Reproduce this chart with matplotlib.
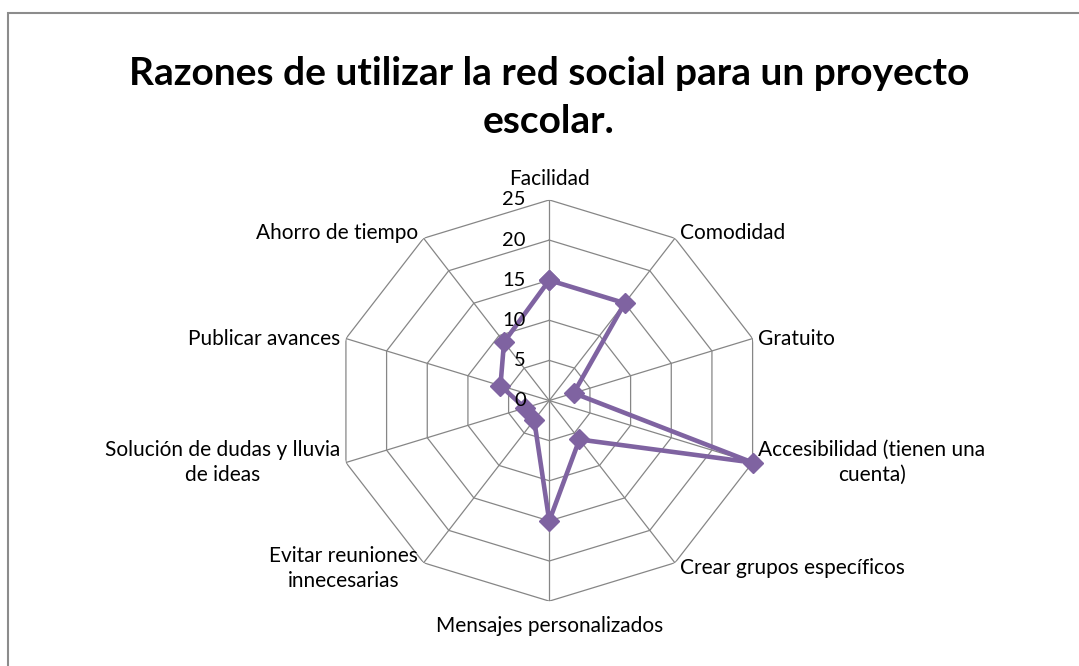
import numpy as np
import matplotlib
matplotlib.use("Agg")
import matplotlib.pyplot as plt
from matplotlib.patches import Rectangle

title = "Razones de utilizar la red social para un proyecto\nescolar."
categories = ["Facilidad", "Comodidad", "Gratuito", "Accesibilidad (tienen una\ncuenta)",
              "Crear grupos específicos", "Mensajes personalizados",
              "Evitar reuniones\ninnecesarias", "Solución de dudas y lluvia\nde ideas",
              "Publicar avances", "Ahorro de tiempo"]
values = [15, 15, 3, 25, 6, 15, 3, 3, 6, 9]
ticks = [0, 5, 10, 15, 20, 25]

FONT = ["Lato", "DejaVu Sans"]
LINE_COLOR = "#7F63A1"
GRID_COLOR = "#868686"

fig = plt.figure(figsize=(10.79, 6.66), dpi=100)
fig.patch.set_facecolor("white")

# chart border (top and left visible)
fig.add_artist(Rectangle((8/1079, -0.1), 1.2, (666-13)/666 + 0.1, transform=fig.transFigure,
                         fill=False, edgecolor="#8C8C8C", linewidth=1.5))

fig.text(0.5088, 1 - 97.5/666, title, ha="center", va="center", fontsize=28,
         fontweight="bold", family=FONT, linespacing=1.42)

ax = fig.add_axes([0.3109, 0.0974, 0.3963, 0.6024], projection="polar")
ax.set_aspect("auto")
ax.set_theta_zero_location("N")
ax.set_theta_direction(-1)
ax.set_ylim(0, 25)
ax.grid(False)
ax.spines["polar"].set_visible(False)
ax.set_xticks([])
ax.set_yticks([])
ax.patch.set_alpha(0)

n = len(categories)
theta = np.arange(n) * 2 * np.pi / n
theta_c = np.append(theta, theta[0])

for t in ticks[1:]:
    ax.plot(theta_c, [t] * (n + 1), color=GRID_COLOR, lw=0.9, zorder=1)
for th in theta:
    ax.plot([th, th], [0, ticks[-1]], color=GRID_COLOR, lw=0.9, zorder=1)

vals_c = values + values[:1]
ax.plot(theta_c, vals_c, color=LINE_COLOR, lw=3.3, marker="D", markersize=10,
        markerfacecolor=LINE_COLOR, markeredgecolor=LINE_COLOR, zorder=3, clip_on=False)

for t in ticks:
    ax.annotate(str(t), xy=(0, t), xytext=(-17, 0), textcoords="offset points",
                ha="right", va="center", fontsize=14.5, family=FONT, annotation_clip=False)

for th, lab in zip(theta, categories):
    s, c = np.sin(th), np.cos(th)
    if abs(s) < 1e-6:
        ha = "center"
    elif s > 0:
        ha = "left"
    else:
        ha = "right"
    if c > 0.9:
        va = "bottom"
    elif c < -0.9:
        va = "top"
    else:
        va = "center"
    dx = 4 * np.sign(s) if abs(s) > 1e-6 else 0
    dy = 0
    if c > 0.9:
        dy = 8
    elif c < -0.9:
        dy = -11
    elif abs(c) > 0.5:
        dy = 4 * np.sign(c)
    ax.annotate(lab, xy=(th, 25), xytext=(dx, dy), textcoords="offset points",
                ha=ha, va=va, fontsize=15, family=FONT, multialignment="center",
                linespacing=1.3, annotation_clip=False)

fig.savefig("out.png", dpi=100)
